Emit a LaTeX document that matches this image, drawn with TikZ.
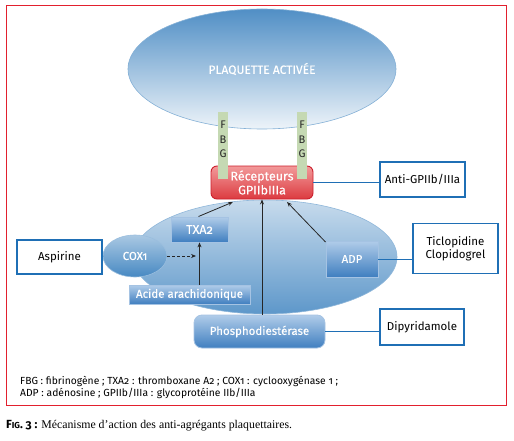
\documentclass[tikz,border=0pt]{standalone}
\usepackage{fontspec}
\setmainfont{Liberation Serif}
\setsansfont{Fira Sans}[Numbers=OldStyle]
\newfontfamily\wsans{Fira Sans}[Numbers=OldStyle, FakeBold=0.2]
\usetikzlibrary{shapes.geometric,arrows.meta}
\definecolor{framered}{HTML}{E2202E}
\definecolor{boxblue}{HTML}{1F6FB5}
\definecolor{sage}{HTML}{C5D9B3}
\definecolor{recTop}{HTML}{F29A9A}
\definecolor{recBot}{HTML}{DC3A40}
\definecolor{recBorder}{HTML}{CC1F2D}
\definecolor{inTop}{HTML}{B0CCE9}
\definecolor{inBot}{HTML}{407FC0}
\definecolor{inBorder}{HTML}{A5C3E3}
\tikzset{
  arr/.style={-{Stealth[length=5pt,width=4pt]}, line width=0.8pt, draw=black!85},
  whitebox/.style={draw=boxblue, line width=1.1pt, fill=white, font=\sffamily\fontsize{11.5}{13.5}\selectfont, align=center, inner sep=0pt},
  bluebox/.style={draw=inBorder, line width=0.8pt, top color=inTop, bottom color=inBot, text=white, font=\wsans\fontsize{11.5}{13}\selectfont, inner sep=0pt},
  fbgbar/.style={fill=sage, draw=none, inner sep=0pt},
  fbgletter/.style={font=\sffamily\fontsize{11}{12}\selectfont, text=black!85, inner sep=0pt},
}
\begin{document}
\begin{tikzpicture}[x=1pt,y=-1pt]
\useasboundingbox (0,0) rectangle (514,441);
\fill[white] (0,0) rectangle (514,441);
% frame
\node[draw=framered, line width=1pt, minimum width=500pt, minimum height=399pt, inner sep=0pt] (frame) at (256,205.5) {};
% top ellipse
\node[ellipse, minimum width=268pt, minimum height=120pt, inner sep=0pt,
  draw=boxblue!55!white, line width=0.6pt, top color=boxblue!78!white, bottom color=boxblue!8!white,
  text=white, font=\wsans\fontsize{12}{13}\selectfont] (plaq) at (262,69) {PLAQUETTE ACTIVÉE};
% lower ellipse
\node[ellipse, minimum width=264pt, minimum height=114pt, inner sep=0pt,
  draw=boxblue!50!white, line width=0.6pt, top color=boxblue!25!white, bottom color=boxblue!72!white] (cell) at (265,257) {};
% receptor
\node[rounded corners=6pt, minimum width=102pt, minimum height=33pt, inner sep=0pt,
  draw=recBorder, line width=0.9pt, top color=recTop, bottom color=recBot,
  text=white, align=center, font=\wsans\fontsize{12.5}{14}\selectfont] (rec) at (262,182.5) {Récepteurs\\GPIIbIIIa};
% FBG bars
\node[fbgbar, minimum width=10pt, minimum height=67pt] (fbgL) at (223,145.5) {};
\node[fbgbar, minimum width=10pt, minimum height=67pt] (fbgR) at (302,145.5) {};
\node[fbgletter] (fL1) at (223,125) {F};
\node[fbgletter] (fL2) at (223,139.5) {B};
\node[fbgletter] (fL3) at (223,154) {G};
\node[fbgletter] (fR1) at (302,125) {F};
\node[fbgletter] (fR2) at (302,139.5) {B};
\node[fbgletter] (fR3) at (302,154) {G};
% COX1
\node[ellipse, minimum width=64pt, minimum height=42pt, inner sep=0pt,
  draw=boxblue!45!white, line width=0.6pt, top color=boxblue!38!white, bottom color=boxblue!82!white,
  text=white, font=\wsans\fontsize{11.5}{13}\selectfont] (cox) at (135,256) {COX1};
% inner boxes
\node[bluebox, minimum width=57pt, minimum height=25pt, font=\wsans\fontsize{12.5}{13}\selectfont] (txa) at (199.5,229.5) {TXA2};
\node[bluebox, minimum width=121pt, minimum height=19pt] (acide) at (189.5,294.5) {Acide arachidonique};
\node[bluebox, minimum width=52pt, minimum height=36pt] (adp) at (352,259) {ADP};
\node[bluebox, rounded corners=8pt, minimum width=131pt, minimum height=33pt] (phos) at (259.5,331.5) {Phosphodiestérase};
% white boxes
\node[whitebox, minimum width=85pt, minimum height=34pt] (asp) at (59.5,257) {Aspirine};
\node[whitebox, minimum width=85pt, minimum height=35pt] (anti) at (422.5,179.5) {Anti-GPIIb/IIIa};
\node[whitebox, minimum width=85pt, minimum height=50pt] (ticlo) at (455.5,248.5) {Ticlopidine\\Clopidogrel};
\node[whitebox, minimum width=84pt, minimum height=36pt] (dipy) at (422,327) {Dipyridamole};
% connectors
\draw[boxblue, line width=1pt] (asp.east) -- (cox.west);
\draw[boxblue, line width=1pt] (rec.east) -- (rec.east -| anti.west);
\draw[boxblue, line width=1pt] (adp.east) -- (adp.east -| ticlo.west);
\draw[boxblue, line width=1pt] (phos.east) -- (phos.east -| dipy.west);
\coordinate (coxend) at (196,256);
\draw[arr, densely dashed] (cox.east) -- (coxend);
\draw[arr] (txa.south |- acide.north) -- (txa.south);
\coordinate (recA) at (233,202);
\coordinate (recC) at (287,202);
\coordinate (txaT) at (198.5,216.5);
\coordinate (adpT) at (325.5,242);
\draw[arr] (txaT) -- (recA);
\draw[arr] (rec.south |- phos.north) -- (rec.south);
\draw[arr] (adpT) -- (recC);
% footnotes
\node[anchor=base west, inner sep=0pt, font=\sffamily\fontsize{10.3}{11}\selectfont] (fn1) at (20,384) {FBG : fibrinogène ; TXA2 : thromboxane A2 ; COX1 : cyclooxygénase 1 ;};
\node[anchor=base west, inner sep=0pt, font=\sffamily\fontsize{10.3}{11}\selectfont] (fn2) at (20,396.5) {ADP : adénosine ; GPIIb/IIIa : glycoprotéine IIb/IIIa};
% caption
\node[anchor=base west, inner sep=0pt, font=\fontsize{11.8}{13}\selectfont] (cap) at (6,428) {{\sffamily\bfseries F{\fontsize{8.7}{9}\selectfont IG}. 3 :} Mécanisme d’action des anti-agrégants plaquettaires.};
\end{tikzpicture}
\end{document}
